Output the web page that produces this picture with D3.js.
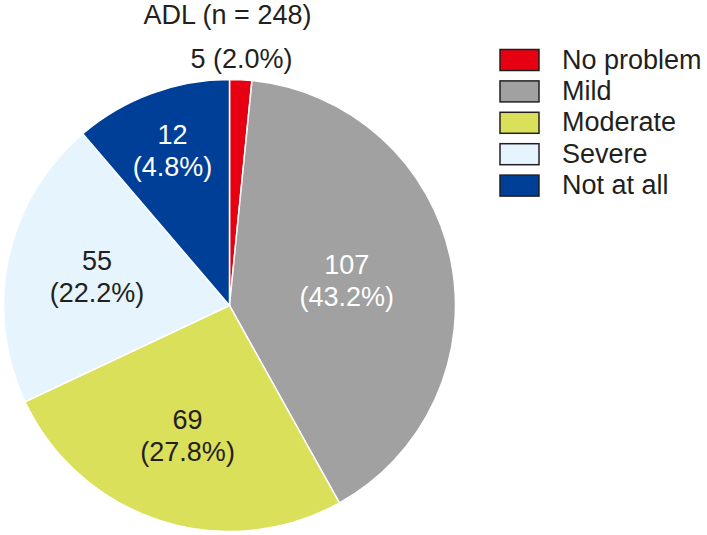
<!DOCTYPE html>
<html>
<head>
<meta charset="utf-8">
<title>ADL pie</title>
<script src="https://d3js.org/d3.v7.min.js"></script>
<style>
  body { margin: 0; background: #fff; }
  text { font-family: "Liberation Sans", Arial, Helvetica, sans-serif; }
</style>
</head>
<body>
<div id="chart"></div>
<script>
var categories = ["No problem", "Mild", "Moderate", "Severe", "Not at all"];
var counts = [5, 107, 69, 55, 12];
var percents = ["2.0%", "43.2%", "27.8%", "22.2%", "4.8%"];
// the slices in the figure are not drawn to scale, so the wedge sizes
// (in degrees) are read off the picture separately
var wedgeDegrees = [5.7, 145.2, 93.9, 74.7, 40.5];
var colors = ["#e60012", "#a0a1a0", "#dbe05a", "#e6f4fd", "#003f98"];
var labelColors = ["#231f20", "#ffffff", "#231f20", "#231f20", "#ffffff"];
var title = "ADL (n = 248)";

var width = 707, height = 535;
var cx = 229.5, cy = 305.5, radius = 226;

var svg = d3.select("#chart").append("svg")
    .attr("width", width)
    .attr("height", height);

var data = categories.map(function(c, i) {
  return { name: c, value: counts[i], deg: wedgeDegrees[i], pct: percents[i], color: colors[i], lc: labelColors[i] };
});

var pie = d3.pie().sort(null).value(function(d) { return d.deg; });
var arc = d3.arc().innerRadius(0).outerRadius(radius);

var g = svg.append("g").attr("transform", "translate(" + cx + "," + cy + ")");
var arcs = pie(data);

g.selectAll("path.slice")
  .data(arcs).enter()
  .append("path")
  .attr("class", "slice")
  .attr("d", arc)
  .style("fill", function(d) { return d.data.color; })
  .style("stroke", "#fff")
  .style("stroke-width", 1.5);

// labels inside the bigger slices
var inside = [
  { i: 1, r: 0.53 },
  { i: 2, r: 0.605 },
  { i: 3, r: 0.60 },
  { i: 4, r: 0.73 }
];
inside.forEach(function(o) {
  var a = arcs[o.i];
  var c = d3.arc().innerRadius(radius * o.r).outerRadius(radius * o.r).centroid(a);
  var t = g.append("text")
    .attr("text-anchor", "middle")
    .attr("font-size", 27)
    .style("fill", a.data.lc);
  t.append("tspan").attr("x", c[0]).attr("y", c[1] - 7).text(a.data.value);
  t.append("tspan").attr("x", c[0]).attr("y", c[1] + 25).text("(" + a.data.pct + ")");
});

// small slice label outside, above the pie
svg.append("text")
  .attr("x", cx + 12)
  .attr("y", 68)
  .attr("text-anchor", "middle")
  .attr("font-size", 27)
  .style("fill", "#231f20")
  .text(arcs[0].data.value + " (" + arcs[0].data.pct + ")");

svg.append("text")
  .attr("x", 227.5)
  .attr("y", 24)
  .attr("text-anchor", "middle")
  .attr("font-size", 27)
  .style("fill", "#231f20")
  .text(title);

// legend
var legend = svg.append("g").attr("transform", "translate(500,49.5)");
var row = legend.selectAll("g.item")
  .data(data).enter()
  .append("g")
  .attr("class", "item")
  .attr("transform", function(d, i) { return "translate(0," + (i * 31.4) + ")"; });

row.append("rect")
  .attr("width", 39)
  .attr("height", 21)
  .style("fill", function(d) { return d.color; })
  .style("stroke", "#231f20")
  .style("stroke-width", 1.5);

row.append("text")
  .attr("x", 62)
  .attr("y", 19)
  .attr("font-size", 27)
  .style("fill", "#231f20")
  .text(function(d) { return d.name; });
</script>
</body>
</html>
